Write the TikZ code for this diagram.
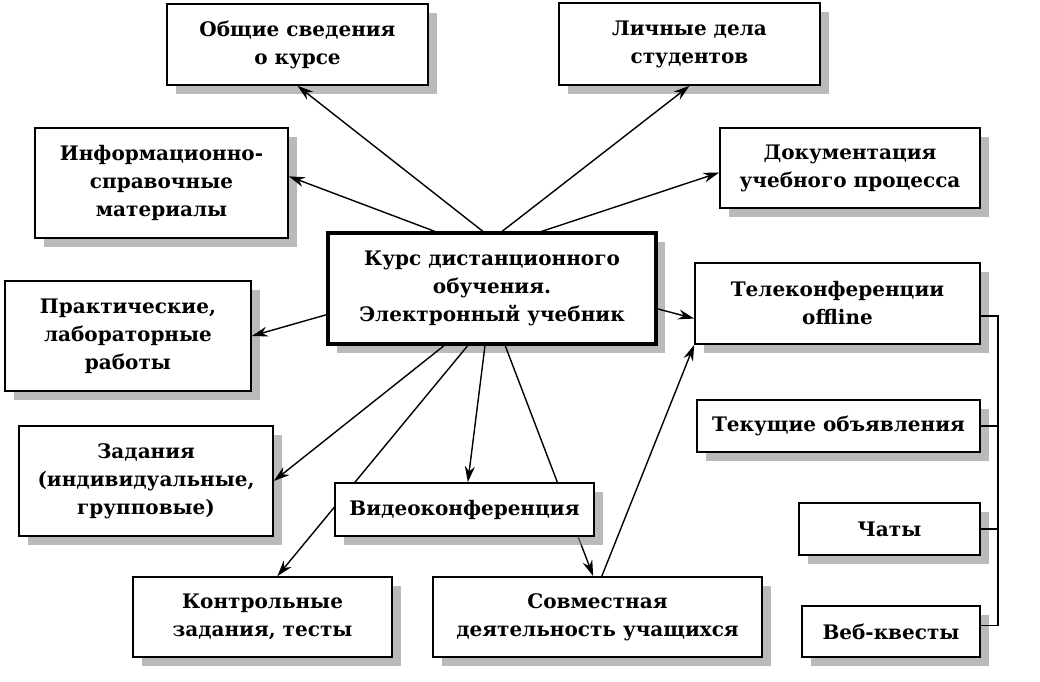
\documentclass[tikz,border=0pt]{standalone}
\usepackage{fontspec}
\setmainfont{DejaVu Serif}
\usetikzlibrary{arrows.meta,shadows}

\begin{document}
\begin{tikzpicture}[x=0.5pt,y=-0.5pt,>={Stealth[length=8pt,width=5pt]}]
    \tikzset{block/.style = {shape=rectangle, draw, line width=0.8pt, fill=white, align=center, inner sep=2pt,
        font=\bfseries\fontsize{10}{14}\selectfont,
        drop shadow={shadow xshift=4.5pt, shadow yshift=-4.5pt, fill=black!45, opacity=0.6}}}
    \tikzset{edge/.style = {draw, line width=0.7pt}}
    \useasboundingbox (0,0) rectangle (1040,681);

    % vertices
    \node[block, minimum width=130.5pt, minimum height=40.5pt] (obsh) at (297.5,44.5) {Общие сведения\\о курсе};
    \node[block, minimum width=130.5pt, minimum height=41pt] (lich) at (689.5,44) {Личные дела\\студентов};
    \node[block, minimum width=126.5pt, minimum height=55pt] (info) at (161.5,183) {Информационно-\\справочные\\материалы};
    \node[block, minimum width=130pt, minimum height=40pt] (doc) at (850,168) {Документация\\учебного процесса};
    \node[block, line width=1.6pt, minimum width=164pt, minimum height=55.5pt] (kurs) at (492,288.5) {Курс дистанционного\\обучения.\\Электронный учебник};
    \node[block, minimum width=123pt, minimum height=55pt] (prakt) at (128,336) {Практические,\\лабораторные\\работы};
    \node[block, minimum width=127pt, minimum height=55pt] (zad) at (146,481) {Задания\\(индивидуальные,\\групповые)};
    \node[block, minimum width=129.5pt, minimum height=40pt] (kontr) at (262.5,617) {Контрольные\\задания, тесты};
    \node[block, minimum width=164.5pt, minimum height=40pt] (sovm) at (597.5,617) {Совместная\\деятельность учащихся};
    \node[block, minimum width=142.5pt, minimum height=40.5pt] (tele) at (837.5,303.5) {Телеконференции\\offline};
    \node[block, minimum width=141.5pt, minimum height=26pt] (tek) at (838.5,426) {Текущие объявления};
    \node[block, minimum width=90.5pt, minimum height=26pt] (chat) at (889.5,529) {Чаты};
    \node[block, minimum width=89pt, minimum height=25.5pt] (veb) at (891,631.5) {Веб-квесты};
    \coordinate (bus) at (998,0);

    % edges
    \draw[edge,->] (kurs.99) -- (obsh.south);
    \draw[edge,->] (kurs.135) -- (info.3);
    \draw[edge,->] (kurs.80) -- (lich.south);
    \draw[edge,->] (kurs.49) -- (doc.182);
    \draw[edge,->] (kurs.-7) -- (tele.186);
    \draw[edge,->] (kurs.189) -- (prakt.east);
    \draw[edge,->] (kurs.-130) -- (zad.east);
    \draw[edge,->] (kurs.-113) -- (kontr.70);
    \draw[edge,->] (kurs.-77) -- (sovm.96);
    \draw[edge,->] (sovm.84) -- (tele.south west);

    % video box on top of the lines passing under it
    \node[block, minimum width=129.5pt, minimum height=26.5pt] (video) at (464.5,509.5) {Видеоконференция};
    \draw[edge,->] (kurs.-97) -- (video.83);

    % right bus
    \draw[edge] (tele.-5) -- (tele.-5 -| bus) -- (veb.4 -| bus) -- (veb.4);
    \draw[edge] (tek.east) -- (tek.east -| bus);
    \draw[edge] (chat.east) -- (chat.east -| bus);
\end{tikzpicture}
\end{document}
